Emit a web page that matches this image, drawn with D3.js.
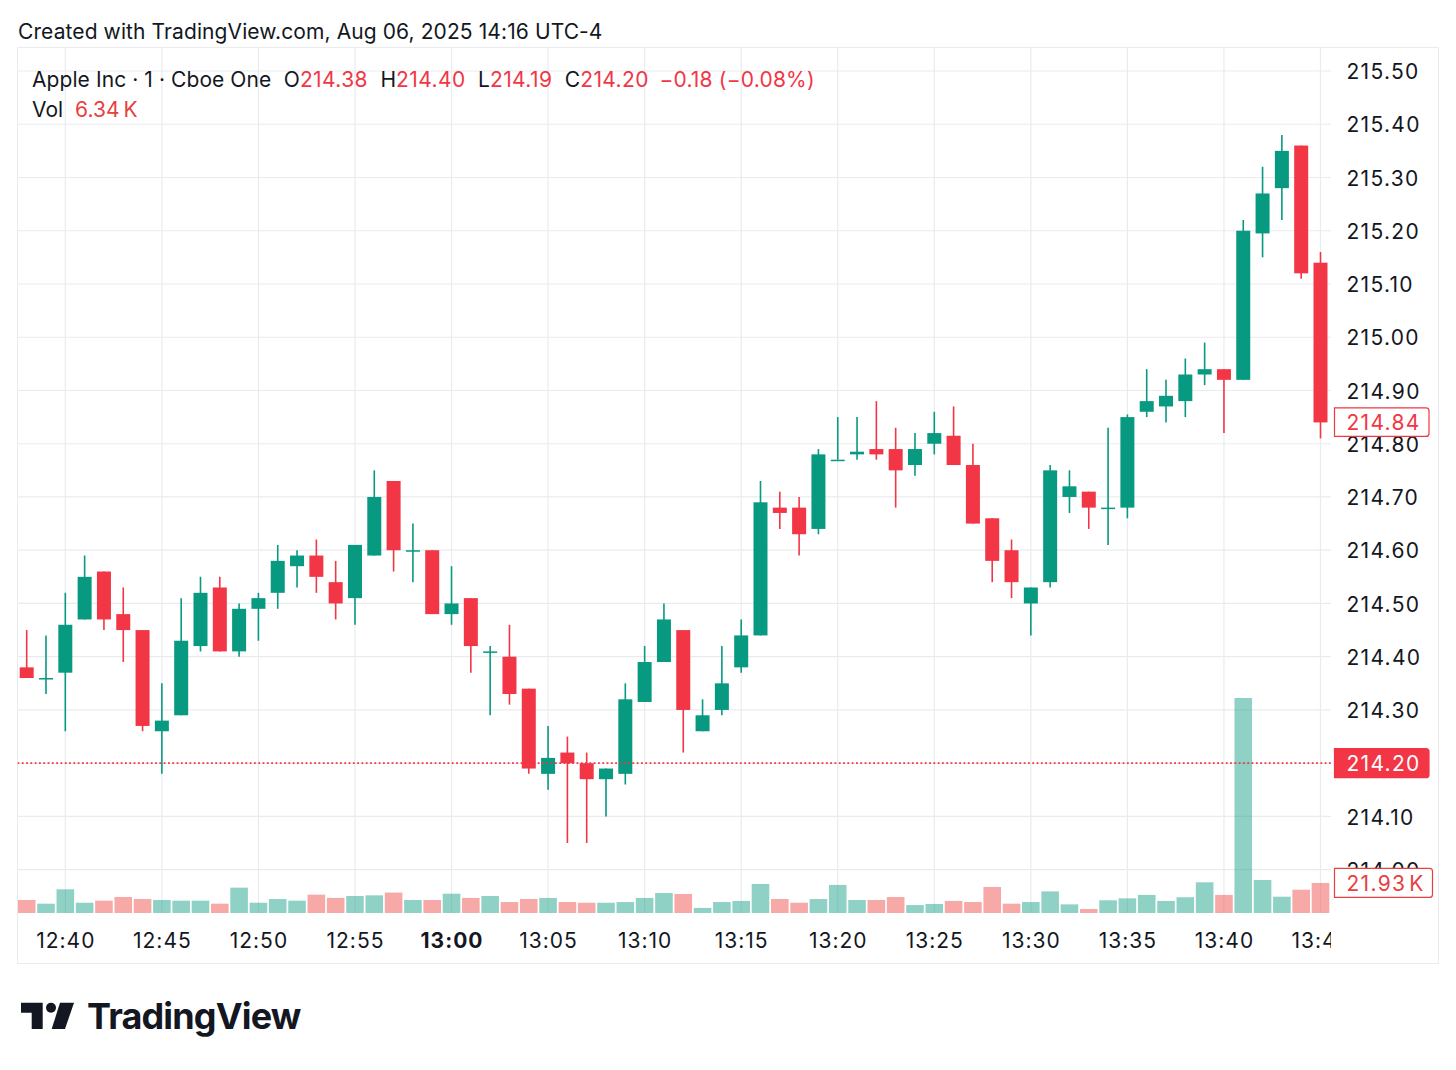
<!DOCTYPE html>
<html>
<head>
<meta charset="utf-8">
<script src="https://cdn.jsdelivr.net/npm/d3@7"></script>
<style>
  html, body { margin: 0; padding: 0; background: #fff; }
  text { font-family: Inter, "Noto Sans", sans-serif; fill: #131722; }
</style>
</head>
<body>
<svg id="chart" width="1456" height="1070"></svg>
<script>
// one minute bars, first one is 12:38, last one (13:46) only shows as a sliver of volume
const opens = [214.38, 214.36, 214.37, 214.47, 214.56, 214.48, 214.45, 214.26, 214.29, 214.42, 214.53, 214.41, 214.49, 214.52, 214.57, 214.59, 214.54, 214.51, 214.59, 214.73, 214.60, 214.60, 214.48, 214.51, 214.41, 214.40, 214.34, 214.18, 214.22, 214.20, 214.17, 214.18, 214.315, 214.39, 214.45, 214.26, 214.30, 214.38, 214.44, 214.68, 214.68, 214.64, 214.77, 214.78, 214.79, 214.79, 214.76, 214.80, 214.815, 214.76, 214.66, 214.60, 214.50, 214.54, 214.70, 214.71, 214.68, 214.68, 214.86, 214.87, 214.88, 214.93, 214.94, 214.92, 215.195, 215.28, 215.36, 215.14, 214.84]
const highs = [214.45, 214.44, 214.52, 214.59, 214.56, 214.53, 214.45, 214.35, 214.51, 214.55, 214.55, 214.50, 214.52, 214.61, 214.60, 214.62, 214.58, 214.61, 214.75, 214.73, 214.65, 214.60, 214.57, 214.51, 214.42, 214.46, 214.34, 214.27, 214.25, 214.22, 214.19, 214.35, 214.42, 214.50, 214.45, 214.32, 214.42, 214.47, 214.73, 214.71, 214.70, 214.79, 214.85, 214.85, 214.88, 214.83, 214.82, 214.86, 214.87, 214.80, 214.66, 214.62, 214.53, 214.76, 214.75, 214.71, 214.83, 214.855, 214.94, 214.92, 214.96, 214.99, 214.94, 215.22, 215.32, 215.38, 215.36, 215.16, 214.85]
const lows = [214.36, 214.33, 214.26, 214.47, 214.45, 214.39, 214.26, 214.18, 214.29, 214.41, 214.41, 214.40, 214.43, 214.49, 214.53, 214.52, 214.47, 214.46, 214.59, 214.56, 214.54, 214.48, 214.46, 214.37, 214.29, 214.31, 214.18, 214.15, 214.05, 214.05, 214.10, 214.16, 214.315, 214.39, 214.22, 214.26, 214.29, 214.37, 214.44, 214.64, 214.59, 214.63, 214.77, 214.77, 214.77, 214.68, 214.74, 214.78, 214.76, 214.65, 214.54, 214.51, 214.44, 214.53, 214.67, 214.64, 214.61, 214.66, 214.85, 214.84, 214.85, 214.91, 214.82, 214.92, 215.15, 215.22, 215.11, 214.81, 214.60]
const closes = [214.36, 214.36, 214.46, 214.55, 214.47, 214.45, 214.27, 214.28, 214.43, 214.52, 214.41, 214.49, 214.51, 214.58, 214.59, 214.55, 214.50, 214.61, 214.70, 214.60, 214.60, 214.48, 214.50, 214.42, 214.41, 214.33, 214.19, 214.21, 214.20, 214.17, 214.19, 214.32, 214.39, 214.47, 214.30, 214.29, 214.35, 214.44, 214.69, 214.67, 214.63, 214.78, 214.77, 214.785, 214.78, 214.75, 214.79, 214.82, 214.76, 214.65, 214.58, 214.54, 214.53, 214.75, 214.72, 214.68, 214.68, 214.85, 214.88, 214.89, 214.93, 214.94, 214.92, 215.20, 215.27, 215.35, 215.12, 214.84, 214.65]
const volumes = [9.5, 6.8, 17.3, 7.5, 9, 11.7, 10.2, 9.5, 9, 9, 6.8, 18.5, 7.5, 10.2, 9, 13.4, 11, 12.4, 12.9, 14.9, 9.5, 9.5, 14.1, 11, 12.4, 8, 10.2, 11, 8, 7.5, 7.5, 8, 11, 14.6, 13.9, 3.7, 8, 8.8, 21.2, 10.2, 7.5, 10.2, 20.5, 9.5, 9.5, 11.7, 5.8, 6.6, 8.8, 8, 19, 6.8, 8, 15.8, 6.3, 2.9, 9.3, 10.7, 13.2, 8.8, 11.5, 22.4, 13.2, 157, 24.1, 11.9, 17, 21.93, 29]

// tick labels
const priceTicks = [214.00, 214.10, 214.20, 214.30, 214.40, 214.50, 214.60, 214.70, 214.80, 214.90, 215.00, 215.10, 215.20, 215.30, 215.40, 215.50]
const hiddenPriceTicks = [214.20]
const timeTickBars = [2, 7, 12, 17, 22, 27, 32, 37, 42, 47, 52, 57, 62, 67]
const timeTickLabels = ['12:40', '12:45', '12:50', '12:55', '13:00', '13:05', '13:10', '13:15', '13:20', '13:25', '13:30', '13:35', '13:40', '13:45']

const lastPrice = 214.20
const hoverClose = 214.84
const hoverVolume = 21.93

const header = 'Created with TradingView.com, Aug 06, 2025 14:16 UTC-4'
const legendTitle = 'Apple Inc · 1 · Cboe One'
const legendOhlc = [['O', '214.38'], ['H', '214.40'], ['L', '214.19'], ['C', '214.20']]
const legendChange = '−0.18 (−0.08%)'
const legendVol = '6.34'

const up = '#089981'
const down = '#f23645'
const volDown = '#ef5350'
const volText = '#e8403f'
const grid = '#e9ebef'
const axisSpacing = '1.3px'
const paneLeft = 17.5
const paneRight = 1331
const paneTop = 47.5
const paneBottom = 913
const frameRight = 1438.5
const frameBottom = 963.5

const svg = d3.select('#chart')

const x = d3.scaleLinear().domain([0, 67]).range([26.7, 1320.5])
const y = d3.scaleLinear().domain([214, 215.5]).range([869.7, 71])
const yVol = d3.scaleLinear().domain([0, 157]).range([paneBottom, 698])

const bars = closes.map((c, i) => ({
  i, o: opens[i], h: highs[i], l: lows[i], c, v: volumes[i], color: c >= opens[i] ? up : down
}))

svg.append('defs').append('clipPath').attr('id', 'pane')
  .append('rect')
  .attr('x', paneLeft).attr('y', paneTop)
  .attr('width', paneRight - paneLeft).attr('height', frameBottom - paneTop)

// frame
svg.append('rect')
  .attr('x', paneLeft).attr('y', paneTop)
  .attr('width', frameRight - paneLeft).attr('height', frameBottom - paneTop)
  .attr('fill', 'none').attr('stroke', grid)

// grid
svg.append('g').selectAll('line').data(priceTicks).join('line')
  .attr('x1', paneLeft).attr('x2', paneRight)
  .attr('y1', d => y(d)).attr('y2', d => y(d))
  .attr('stroke', grid)
  .attr('stroke-width', 1.2)

svg.append('g').selectAll('line').data(timeTickBars).join('line')
  .attr('x1', d => x(d)).attr('x2', d => x(d))
  .attr('y1', paneTop).attr('y2', paneBottom)
  .attr('stroke', grid)
  .attr('stroke-width', 1.2)

const pane = svg.append('g').attr('clip-path', 'url(#pane)')

// volume
pane.append('g').selectAll('rect').data(bars).join('rect')
  .attr('x', d => x(d.i) - 8.8)
  .attr('width', 17.6)
  .attr('y', d => yVol(d.v))
  .attr('height', d => yVol(0) - yVol(d.v))
  .attr('fill', d => d.color === up ? up : volDown)
  .attr('fill-opacity', d => d.color === up ? 0.45 : 0.5)

// candles
pane.append('g').selectAll('line').data(bars).join('line')
  .attr('x1', d => x(d.i)).attr('x2', d => x(d.i))
  .attr('y1', d => y(d.h)).attr('y2', d => y(d.l))
  .attr('stroke', d => d.color)
  .attr('stroke-width', 1.6)

pane.append('g').selectAll('rect').data(bars).join('rect')
  .attr('x', d => x(d.i) - 7)
  .attr('width', 14)
  .attr('y', d => y(Math.max(d.o, d.c)))
  .attr('height', d => Math.max(1.5, y(Math.min(d.o, d.c)) - y(Math.max(d.o, d.c))))
  .attr('fill', d => d.color)

// last price line
pane.append('line')
  .attr('x1', paneLeft).attr('x2', paneRight)
  .attr('y1', y(lastPrice)).attr('y2', y(lastPrice))
  .attr('stroke', down)
  .attr('stroke-width', 1.8)
  .attr('stroke-dasharray', '1.8 2.5')

// axes, domain and tick lines off
const priceAxis = d3.axisRight(y)
  .tickValues(priceTicks.filter(d => !hiddenPriceTicks.includes(d)))
  .tickFormat(d3.format('.2f'))
  .tickSize(0)
  .tickPadding(0)

const priceG = svg.append('g')
  .attr('transform', 'translate(1346.5,0)')
  .call(priceAxis)
priceG.select('.domain').remove()
priceG.selectAll('text')
  .attr('dy', '0.36em')
  .style('font-size', '21px')
  .style('letter-spacing', axisSpacing)
  .style('font-family', 'Inter')
  .style('fill', '#131722')

const timeAxis = d3.axisBottom(x)
  .tickValues(timeTickBars)
  .tickFormat((d, i) => timeTickLabels[i])
  .tickSize(0)
  .tickPadding(0)

const timeG = svg.append('g')
  .attr('clip-path', 'url(#pane)')
  .append('g')
  .attr('transform', 'translate(0,940.5)')
  .call(timeAxis)
timeG.select('.domain').remove()
timeG.selectAll('text')
  .attr('y', 0).attr('dy', '0.36em')
  .style('font-size', '21px')
  .style('letter-spacing', '1px')
  .style('font-family', 'Inter')
  .style('fill', '#131722')
  .style('font-weight', (d, i) => timeTickLabels[i] === '13:00' ? 700 : 400)

// price tags
function tag (top, bottom, right, label, unit, color, solid) {
  svg.append('path')
    .attr('d', `M1334.5,${top}H${right - 3}Q${right},${top} ${right},${top + 3}V${bottom - 3}Q${right},${bottom} ${right - 3},${bottom}H1334.5Z`)
    .attr('fill', solid ? color : '#fff')
    .attr('stroke', color)
    .attr('stroke-width', 1.2)
  const t = svg.append('text')
    .attr('x', 1346.5).attr('y', (top + bottom) / 2).attr('dy', '0.36em')
    .style('font-size', '21px')
    .style('letter-spacing', axisSpacing)
    .style('fill', solid ? '#fff' : color)
    .text(label)
  if (unit) t.append('tspan').attr('dx', 3).text(unit)
}

tag(y(hoverClose) - 14.5, y(hoverClose) + 14, 1429, d3.format('.2f')(hoverClose), '', down, false)
tag(y(lastPrice) - 14.5, y(lastPrice) + 14.5, 1429, d3.format('.2f')(lastPrice), '', down, true)
tag(yVol(hoverVolume) - 14.5, yVol(hoverVolume) + 14.5, 1432.5, d3.format('.2f')(hoverVolume), 'K', volText, false)

// header and legend
svg.append('text')
  .attr('x', 18).attr('y', 39)
  .style('font-size', '21px')
  .style('letter-spacing', '0.1px')
  .text(header)

const legend = svg.append('text')
  .attr('x', 32).attr('y', 87)
  .style('font-size', '21px')
legend.append('tspan').style('letter-spacing', '0.08px').text(legendTitle)
legendOhlc.forEach(([name, value]) => {
  legend.append('tspan').attr('dx', 12.5).text(name)
  legend.append('tspan').style('fill', down).style('letter-spacing', '0.4px').text(value)
})
legend.append('tspan').attr('dx', 10.5).style('fill', down).style('letter-spacing', '0.2px').text(legendChange)

const volLegend = svg.append('text')
  .attr('x', 32).attr('y', 117)
  .style('font-size', '21px')
volLegend.append('tspan').text('Vol')
volLegend.append('tspan').attr('dx', 12).style('fill', volText).text(legendVol)
volLegend.append('tspan').attr('dx', 4).style('fill', volText).text('K')

// logo
const logo = svg.append('g').attr('fill', '#131722')
logo.append('path').attr('d', 'M21,1002.7H42.7V1029H31.7V1012.7H21Z')
logo.append('circle').attr('cx', 51).attr('cy', 1007.7).attr('r', 5)
logo.append('path').attr('d', 'M60,1002.7H74L65,1029H51.7Z')
svg.append('text')
  .attr('x', 87).attr('y', 1029)
  .style('font-size', '36px')
  .style('font-weight', 700)
  .style('letter-spacing', '-0.85px')
  .text('TradingView')
</script>
</body>
</html>
